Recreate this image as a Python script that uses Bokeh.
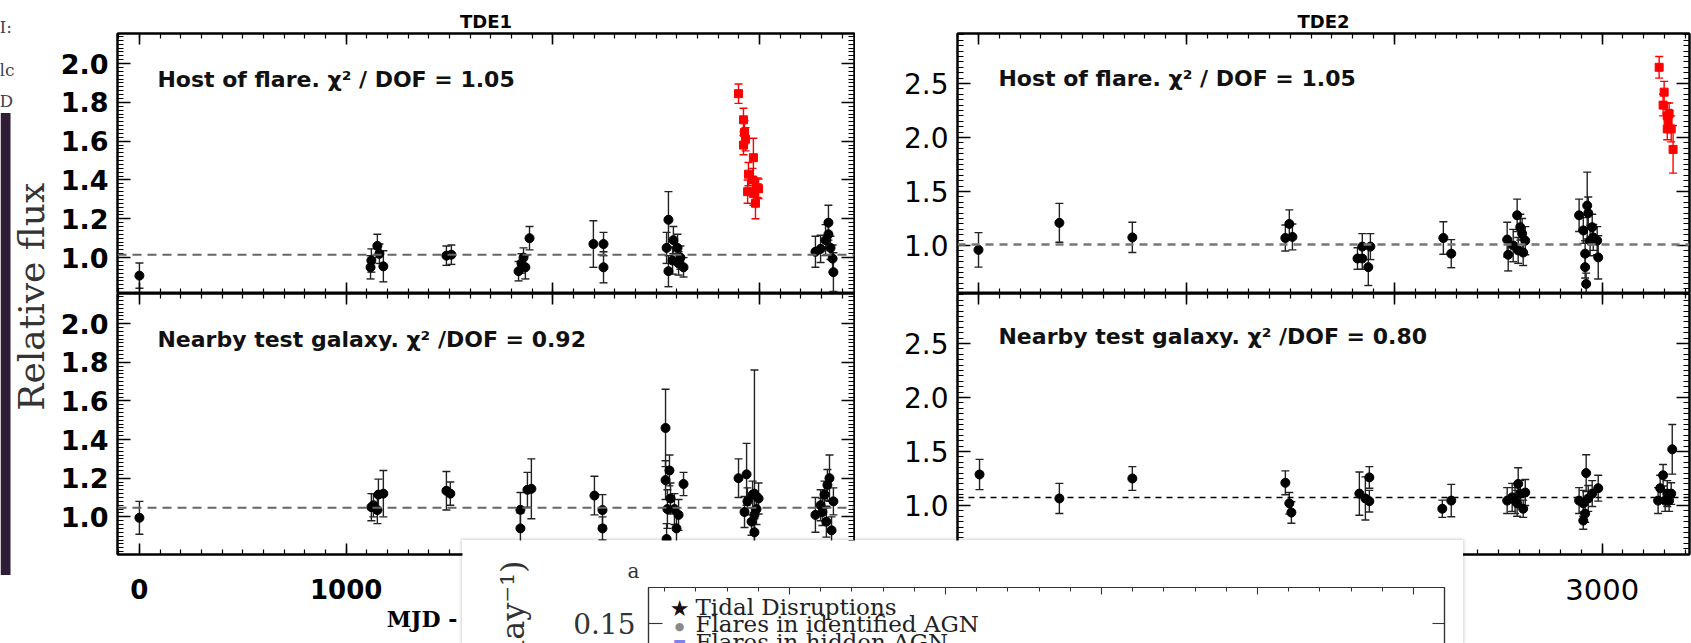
import math
from bokeh.plotting import figure
from bokeh.models import (Range1d, LinearAxis, SingleIntervalTicker, FixedTicker, Span,
                          ColumnDataSource, Label, BoxAnnotation, NumeralTickFormatter,
                          CustomJSTickFormatter, Spacer)
from bokeh.layouts import row, column
from bokeh.embed import file_html
from bokeh.resources import INLINE

# ---------------- data ----------------
panel_titles = ["TDE1", "TDE2"]
host_texts = ["Host of flare. χ² / DOF = 1.05", "Host of flare. χ² / DOF = 1.05"]
near_texts = ["Nearby test galaxy. χ² /DOF = 0.92", "Nearby test galaxy. χ² /DOF = 0.80"]
x_label = "MJD - 52000 (d)"
y_label = "Relative flux"

# TDE1, host galaxy (quiescent epochs)
t1h_x = [0, 1118, 1122, 1151, 1161, 1180, 1485, 1509, 1834, 1848, 1858, 1867, 1887, 2196, 2245, 2245,
         2559, 2550, 2559, 2583, 2603, 2617, 2632, 2579, 2608, 3270, 3295, 3319, 3333, 3333, 3343, 3353, 3357]
t1h_y = [0.907, 0.95, 0.985, 1.06, 1.02, 0.955, 1.01, 1.015, 0.93, 0.97, 1.0, 0.95, 1.10, 1.07, 1.07, 0.95,
         1.195, 1.05, 0.93, 1.09, 1.05, 1.0, 0.95, 0.985, 0.97, 1.03, 1.045, 1.09, 1.18, 1.12, 1.05, 0.995, 0.925]
t1h_e = [0.065, 0.06, 0.06, 0.06, 0.05, 0.08, 0.05, 0.05, 0.05, 0.05, 0.05, 0.06, 0.06, 0.12, 0.06, 0.08,
         0.145, 0.08, 0.08, 0.07, 0.07, 0.06, 0.05, 0.07, 0.06, 0.08, 0.07, 0.08, 0.09, 0.07, 0.06, 0.07, 0.10]
# TDE1 flare epochs
t1f_x = [2898, 2922, 2927, 2932, 2922, 2970, 2946, 2966, 2990, 2942, 2970, 2995, 2980]
t1f_y = [1.845, 1.71, 1.645, 1.61, 1.58, 1.515, 1.43, 1.40, 1.36, 1.34, 1.33, 1.355, 1.28]
t1f_e = [0.05, 0.06, 0.06, 0.06, 0.05, 0.10, 0.06, 0.06, 0.05, 0.06, 0.06, 0.05, 0.08]
# TDE1 nearby test galaxy
t1n_x = [0, 1122, 1132, 1151, 1156, 1180, 1485, 1504, 1843, 1843, 1877, 1896, 2201, 2240, 2240,
         2545, 2545, 2564, 2554, 2569, 2588, 2598, 2608, 2632, 2550,
         2898, 2937, 2975, 2927, 2941, 2961, 2966, 2975, 2985, 2975, 2995,
         3270, 3295, 3314, 3328, 3338, 3323, 3348, 3304, 3357]
t1n_y = [0.995, 1.05, 1.06, 1.035, 1.115, 1.12, 1.135, 1.12, 1.036, 0.94, 1.14, 1.145, 1.11, 1.035, 0.94,
         1.46, 1.19, 1.24, 1.04, 1.095, 1.04, 0.94, 1.01, 1.17, 0.885,
         1.2, 1.22, 1.12, 1.025, 1.08, 0.975, 1.115, 1.01, 1.04, 0.92, 1.095,
         1.01, 1.06, 1.115, 1.165, 1.2, 0.975, 0.93, 1.025, 1.08]
t1n_e = [0.085, 0.07, 0.06, 0.07, 0.08, 0.12, 0.1, 0.06, 0.09, 0.08, 0.09, 0.155, 0.1, 0.08, 0.06,
         0.2, 0.1, 0.08, 0.1, 0.08, 0.08, 0.08, 0.08, 0.06, 0.08,
         0.1, 0.16, 0.64, 0.08, 0.07, 0.07, 0.07, 0.08, 0.08, 0.07, 0.08,
         0.09, 0.08, 0.07, 0.08, 0.12, 0.08, 0.07, 0.07, 0.07]
# TDE2, host galaxy
t2h_x = [0, 389, 740, 1476, 1495, 1510, 1823, 1846, 1846, 1875, 1885, 2236, 2274,
         2543, 2548, 2572, 2591, 2596, 2615, 2620, 2630, 2606,
         2889, 2909, 2918, 2923, 2928, 2933, 2942, 2957, 2976, 2981, 2952, 2918]
t2h_y = [0.96, 1.21, 1.075, 1.07, 1.20, 1.08, 0.88, 0.88, 0.99, 0.80, 0.99, 1.07, 0.925,
         1.055, 0.915, 1.0, 1.28, 0.955, 1.11, 0.935, 1.045, 1.17,
         1.28, 1.14, 0.925, 0.645, 1.37, 1.30, 1.045, 1.075, 1.045, 0.89, 1.17, 0.80]
t2h_e = [0.16, 0.18, 0.14, 0.12, 0.13, 0.12, 0.1, 0.1, 0.12, 0.17, 0.12, 0.15, 0.13,
         0.16, 0.15, 0.15, 0.15, 0.12, 0.14, 0.12, 0.13, 0.12,
         0.15, 0.12, 0.12, 0.1, 0.31, 0.15, 0.14, 0.12, 0.13, 0.2, 0.12, 0.1]
# TDE2 flare epochs
t2f_x = [3274, 3298, 3293, 3313, 3322, 3313, 3332, 3317, 3341]
t2f_y = [2.65, 2.42, 2.30, 2.20, 2.22, 2.08, 2.08, 2.16, 1.89]
t2f_e = [0.1, 0.1, 0.1, 0.12, 0.1, 0.1, 0.12, 0.1, 0.22]
# TDE2 nearby test galaxy
t2n_x = [5, 389, 740, 1476, 1495, 1505, 1832, 1861, 1880, 1880, 2231, 2274,
         2543, 2567, 2581, 2596, 2606, 2620, 2630, 2591,
         2889, 2909, 2918, 2923, 2933, 2952, 2981, 2909,
         3269, 3279, 3293, 3313, 3322, 3337, 3332, 3303]
t2n_y = [1.287, 1.065, 1.25, 1.21, 1.02, 0.935, 1.11, 1.065, 1.26, 1.04, 0.97, 1.045,
         1.045, 1.075, 1.045, 1.20, 1.11, 0.97, 1.12, 1.02,
         1.045, 1.02, 0.925, 1.30, 1.065, 1.11, 1.16, 0.86,
         1.045, 1.16, 1.28, 1.11, 1.045, 1.52, 1.11, 1.045]
t2n_e = [0.14, 0.14, 0.11, 0.11, 0.1, 0.1, 0.2, 0.2, 0.1, 0.1, 0.08, 0.15,
         0.12, 0.13, 0.12, 0.15, 0.12, 0.08, 0.12, 0.12,
         0.12, 0.12, 0.08, 0.17, 0.12, 0.12, 0.12, 0.08,
         0.12, 0.12, 0.1, 0.12, 0.1, 0.23, 0.1, 0.1]
# mean (dashed) levels
base_t1h, base_t1n, base_t2h, base_t2n = 1.015, 1.047, 1.01, 1.074

# overlapping inset (a second figure partially covering the page)
inset_legend = ["Tidal Disruptions", "Flares in identified AGN", "Flares in hidden AGN"]
inset_symbols = ["★", "●", "■"]
inset_symbol_colors = ["#111", "#8a8a8a", "#8080ee"]
inset_yticks = [0.05, 0.10, 0.15]
inset_ylabel = "Rate (day⁻¹)"
inset_panel_tag = "a"
page_fragments = ["I:", "lc", "D"]

BLANK = CustomJSTickFormatter(code="return ''")
TOP_RESERVE = 47   # space the renderer keeps above the frame of the annotation-only canvases


# ---------------- helpers ----------------
def ax_style(ax, tin, tmin, color="black", lw=2):
    ax.axis_line_width = lw
    ax.axis_line_color = color
    ax.major_tick_in = tin
    ax.major_tick_out = 0
    ax.minor_tick_in = tmin
    ax.minor_tick_out = 0
    ax.major_tick_line_width = 1.6 if lw > 1.5 else 1.1
    ax.minor_tick_line_width = 1.2 if lw > 1.5 else 1.0
    ax.major_tick_line_color = color
    ax.minor_tick_line_color = color


def no_labels(ax):
    ax.formatter = BLANK
    ax.major_label_text_font_size = "1px"
    ax.major_label_standoff = 0


def base_figure(width, height, xr, yr, bl, br, bt, bb):
    p = figure(width=width, height=height, x_range=Range1d(*xr), y_range=Range1d(*yr),
               output_backend="svg", toolbar_location=None,
               min_border_left=bl, min_border_right=br, min_border_top=bt, min_border_bottom=bb)
    p.grid.visible = False
    return p


def hide_axes(c):
    c.outline_line_color = None
    c.border_fill_alpha = 0
    c.background_fill_alpha = 0
    for ax in c.axis:
        ax.axis_line_color = None
        ax.major_tick_line_color = None
        ax.minor_tick_line_color = None
        ax.major_tick_in = 0
        ax.major_tick_out = 0
        ax.minor_tick_in = 0
        ax.minor_tick_out = 0
        no_labels(ax)


def panel(width, height, xr, yr, bl, br, bt, bb, yint, font, bold, xlabels, title=None, xlab=None):
    p = base_figure(width, height, xr, yr, bl, br, bt, bb)
    p.outline_line_color = "black"
    p.outline_line_width = 2
    xt = SingleIntervalTicker(interval=1000, num_minor_ticks=10)
    yt = SingleIntervalTicker(interval=yint, num_minor_ticks=10)
    for ax in p.xaxis:
        ax.ticker = xt
        ax_style(ax, 11, 5)
        if xlabels:
            ax.formatter = NumeralTickFormatter(format="0")
            ax.major_label_text_font = font
            ax.major_label_text_font_style = "bold" if bold else "normal"
            ax.major_label_text_font_size = "26px" if bold else "29px"
            ax.major_label_text_color = "black"
            ax.major_label_standoff = 24
            if xlab:
                ax.axis_label = xlab
                ax.axis_label_text_font = "DejaVu Serif"
                ax.axis_label_text_font_style = "bold"
                ax.axis_label_text_font_size = "22px"
                ax.axis_label_text_color = "black"
                ax.axis_label_standoff = 4
        else:
            no_labels(ax)
    for ax in p.yaxis:
        ax.ticker = yt
        ax.formatter = NumeralTickFormatter(format="0.0")
        ax_style(ax, 13, 6)
        ax.major_label_text_font = font
        ax.major_label_text_font_style = "bold" if bold else "normal"
        ax.major_label_text_font_size = "27px" if bold else "28px"
        ax.major_label_text_color = "black"
        ax.major_label_standoff = 9
    ra = LinearAxis(ticker=yt)
    ax_style(ra, 13, 6)
    no_labels(ra)
    p.add_layout(ra, "right")
    ta = LinearAxis(ticker=xt)
    ax_style(ta, 11, 5)
    no_labels(ta)
    p.add_layout(ta, "above")
    if title:
        p.title.text = title
        p.title.align = "center"
        p.title.text_font = "DejaVu Sans"
        p.title.text_font_size = "18px"
        p.title.text_font_style = "bold"
        p.title.text_color = "black"
        p.title.standoff = 4
    return p


def draw(p, xs, ys, es, color, bar_color, marker, size):
    src = ColumnDataSource(dict(x=xs, y=ys,
                                lo=[y - e for y, e in zip(ys, es)],
                                hi=[y + e for y, e in zip(ys, es)]))
    p.segment("x", "lo", "x", "hi", source=src, line_color=bar_color, line_width=1.4)
    p.scatter("x", "hi", marker="dash", size=8, line_color=bar_color, line_width=1.4, source=src)
    p.scatter("x", "lo", marker="dash", size=8, line_color=bar_color, line_width=1.4, source=src)
    p.scatter("x", "y", marker=marker, size=size, fill_color=color, line_color=color, source=src)


def note(p, x, y, text):
    p.add_layout(Label(x=x, y=y, text=text, text_font="DejaVu Sans", text_font_style="bold",
                       text_font_size="22px", text_baseline="middle", text_color="#111"))


XR1 = (-106, 3459)
XR2 = (-101, 3420)

# ---------------- TDE1 ----------------
t1a = panel(800, 293, XR1, (0.815, 2.155), 62, 1, 33, 0, 0.2, "DejaVu Sans", True, False, title=panel_titles[0])
t1a.add_layout(Span(location=base_t1h, dimension="width", line_color="#666", line_dash="9 6", line_width=2))
draw(t1a, t1h_x, t1h_y, t1h_e, "black", "#222", "circle", 9)
draw(t1a, t1f_x, t1f_y, t1f_e, "red", "red", "square", 8)
note(t1a, 87, 1.92, host_texts[0])

t1b = panel(800, 350, XR1, (0.805, 2.156), 62, 1, 0, 89, 0.2, "DejaVu Sans", True, True, xlab=x_label)
t1b.add_layout(Span(location=base_t1n, dimension="width", line_color="#666", line_dash="9 6", line_width=2))
draw(t1b, t1n_x, t1n_y, t1n_e, "black", "#222", "circle", 9)
note(t1b, 87, 1.92, near_texts[0])

# ---------------- TDE2 ----------------
t2a = panel(836, 293, XR2, (0.556, 2.963), 102, 2, 33, 0, 0.5, "DejaVu Sans", False, False, title=panel_titles[1])
t2a.add_layout(Span(location=base_t2h, dimension="width", line_color="#777", line_dash="8 6", line_width=2.5))
draw(t2a, t2h_x, t2h_y, t2h_e, "black", "#222", "circle", 9)
draw(t2a, t2f_x, t2f_y, t2f_e, "red", "red", "square", 8)
note(t2a, 96, 2.546, host_texts[1])

t2b = panel(836, 350, XR2, (0.546, 2.963), 102, 2, 0, 89, 0.5, "DejaVu Sans", False, True, xlab=x_label)
t2b.add_layout(Span(location=base_t2n, dimension="width", line_color="black", line_dash="6 5", line_width=1.5))
draw(t2b, t2n_x, t2n_y, t2n_e, "black", "#222", "circle", 9)
note(t2b, 96, 2.565, near_texts[1])

# ---------------- left strip with the shared y label ----------------
# annotation-only figure shifted up by its reserved top space; its data units are page pixels (y down)
SIDE_SHIFT = 48
side = base_figure(55, 643, (0, 55), (643 - 1.5 - SIDE_SHIFT, 0), 0, 0, 0, 0)
hide_axes(side)
side.add_layout(BoxAnnotation(left=0, right=10, top=113, bottom=573, fill_color="#2f1c37",
                              fill_alpha=1, line_color=None))
side.add_layout(Label(x=31, y=296, text=y_label, angle=math.pi / 2, text_align="center",
                      text_baseline="middle", text_font="DejaVu Serif", text_font_size="36px",
                      text_color="#333"))
for txt, yy in zip(page_fragments, [27, 70, 101]):
    side.add_layout(Label(x=-1, y=yy, text=txt, text_font="DejaVu Serif", text_font_size="17px",
                          text_baseline="middle", text_color="#444"))
side.styles = {"position": "absolute", "left": "0px", "top": f"{-SIDE_SHIFT}px", "z-index": "5"}

# ---------------- overlapping inset: background card with its texts ----------------
CH = 104
card = base_figure(1001, CH + TOP_RESERVE, (0, 1001), (0, CH), 0, 0, 0, 0)
hide_axes(card)
card.background_fill_color = "white"
card.background_fill_alpha = 1
card.add_layout(Label(x=50, y=CH - 20, text=inset_ylabel, angle=math.pi / 2, text_align="right",
                      text_baseline="middle", text_font="DejaVu Serif", text_font_size="32px",
                      text_color="#333"))
card.add_layout(Label(x=171, y=CH - 30, text=inset_panel_tag, text_align="center", text_baseline="middle",
                      text_font="DejaVu Serif", text_font_size="20px", text_color="#333"))
for i, (sym, col, txt) in enumerate(zip(inset_symbols, inset_symbol_colors, inset_legend)):
    yy = 66 + 17.5 * i
    card.add_layout(Label(x=217, y=CH - yy - 2, text=sym, text_align="center", text_baseline="middle",
                          text_font="DejaVu Sans", text_font_size=["22px", "11px", "14px"][i],
                          text_color=col))
    card.add_layout(Label(x=233, y=CH - yy, text=txt, text_baseline="middle", text_font="DejaVu Serif",
                          text_font_size="23px", text_color="#222"))
card.styles = {"position": "absolute", "left": "462px", "top": f"{540 - TOP_RESERVE}px", "z-index": "9"}

# ---------------- overlapping inset: its axes frame ----------------
pop = base_figure(1001, 104, (-0.904, 4.199), (0.1325, 0.1792), 186, 19, 47, 0)
pop.outline_line_color = "#333"
pop.outline_line_width = 1.2
pop.background_fill_alpha = 0
pop.border_fill_alpha = 0
pop.xaxis.visible = False
px_t = SingleIntervalTicker(interval=1, num_minor_ticks=5)
pa = LinearAxis(ticker=px_t)
ax_style(pa, 7, 4, "#333", 1.2)
no_labels(pa)
pop.add_layout(pa, "above")
for ax in pop.yaxis:
    ax.ticker = FixedTicker(ticks=inset_yticks)
    ax.formatter = NumeralTickFormatter(format="0.00")
    ax_style(ax, 14, 0, "#333", 1.2)
    ax.major_label_text_font = "DejaVu Serif"
    ax.major_label_text_font_size = "28px"
    ax.major_label_text_color = "#333"
    ax.major_label_standoff = 13
pr = LinearAxis(ticker=FixedTicker(ticks=inset_yticks))
ax_style(pr, 12, 0, "#333", 1.2)
no_labels(pr)
pop.add_layout(pr, "right")
pop.styles = {"position": "absolute", "left": "462px", "top": "540px", "z-index": "10",
              "box-shadow": "0 0 3px 1px rgba(0,0,0,0.18)"}

layout = row(Spacer(width=55, height=643), column(t1a, t1b), column(t2a, t2b), side, card, pop)
layout.styles = {"position": "relative"}

open("out.html", "w").write(file_html(layout, INLINE))
